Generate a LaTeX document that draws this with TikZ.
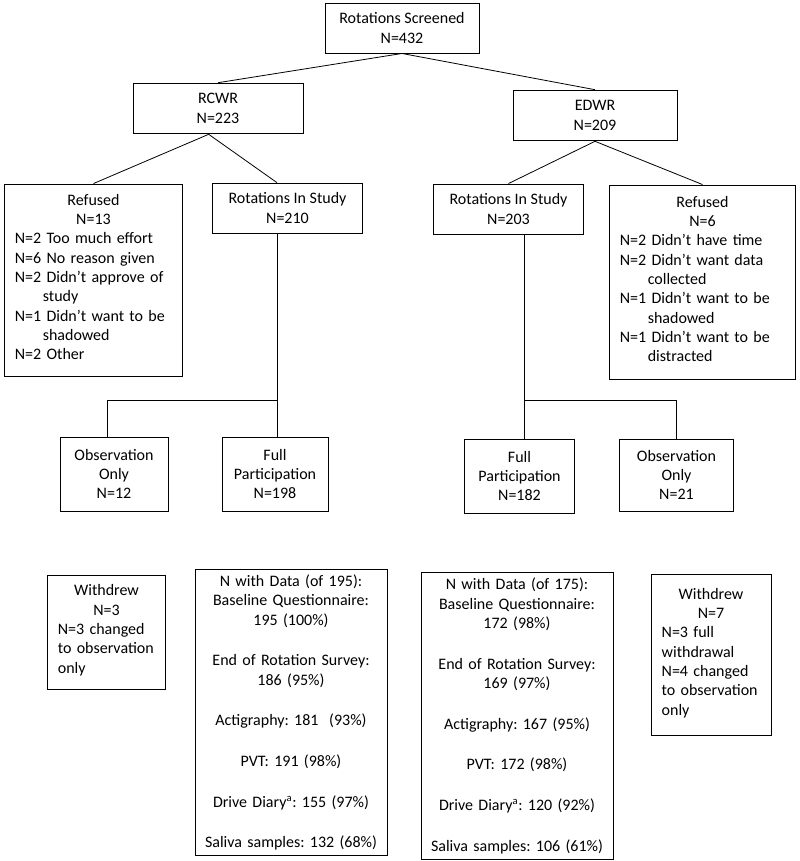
\documentclass[tikz,border=0pt]{standalone}
\usepackage{fontspec}
\setmainfont{Carlito}
\newcommand{\ind}{\hspace*{1.75em}}

\begin{document}
\begin{tikzpicture}[x=0.75pt, y=-0.75pt,
  every node/.style={font=\fontsize{12}{14.5}\selectfont\frenchspacing},
  box/.style={draw, line width=0.7pt, align=center, inner xsep=8pt, inner ysep=4pt},
  link/.style={line width=0.6pt}]
  \useasboundingbox (0,0) rectangle (800,861);

  % Screening box
  \node[box, minimum width=115.5pt, minimum height=37.5pt] (screen) at (402,28) {Rotations Screened\\N=432};

  % Site boxes
  \node[box, minimum width=127.5pt, minimum height=38pt] (rcwr) at (218,108.5) {RCWR\\N=223};
  \node[box, minimum width=123pt, minimum height=38pt] (edwr) at (595,115.5) {EDWR\\N=209};

  % RCWR branch
  \node[box, text width=118pt, minimum height=144pt] (refL) at (93.5,280)
    {Refused\\N=13\\\begin{tabular}[t]{@{}p{118pt}@{}}N=2 Too much effort\\N=6 No reason given\\N=2 Didn't approve of\\\ind study\\N=1 Didn't want to be\\\ind shadowed\\N=2 Other\end{tabular}};
  \node[box, minimum width=112pt, minimum height=37.5pt] (risL) at (287.5,208) {Rotations In Study\\N=210};
  \node[box, minimum width=81pt, minimum height=55.5pt] (obsL) at (114,474) {Observation\\Only\\N=12};
  \node[box, minimum width=79.5pt, minimum height=55.5pt] (fullL) at (275,474) {Full\\Participation\\N=198};

  % EDWR branch
  \node[box, minimum width=112pt, minimum height=37.5pt] (risR) at (508.5,209) {Rotations In Study\\N=203};
  \node[box, text width=124pt, minimum height=145.5pt] (refR) at (702.5,282)
    {Refused\\N=6\\\begin{tabular}[t]{@{}p{124pt}@{}}N=2 Didn't have time\\N=2 Didn't want data\\\ind collected\\N=1 Didn't want to be\\\ind shadowed\\N=1 Didn't want to be\\\ind distracted\end{tabular}};
  \node[box, minimum width=83pt, minimum height=55.5pt] (fullR) at (519.5,476) {Full\\Participation\\N=182};
  \node[box, minimum width=85pt, minimum height=54pt] (obsR) at (676.5,475) {Observation\\Only\\N=21};

  % Withdrawals and data
  \node[box, text width=73pt, minimum height=85.5pt] (wdL) at (106.5,632)
    {Withdrew\\N=3\\\begin{tabular}[t]{@{}p{73pt}@{}}N=3 changed\\to observation\\only\end{tabular}};
  \node[box, inner xsep=6pt, text width=132pt, minimum height=209pt] (dataL) at (291,712.5)
    {N with Data (of 195):\\Baseline Questionnaire:\\195 (100\%)\\[16pt]End of Rotation Survey:\\186 (95\%)\\[16pt]Actigraphy: 181~~(93\%)\\[16pt]PVT: 191 (98\%)\\[16pt]Drive Diary\textsuperscript{a}: 155 (97\%)\\[16pt]Saliva samples: 132 (68\%)};
  \node[box, inner xsep=6pt, text width=132pt, minimum height=211.5pt] (dataR) at (517,716)
    {N with Data (of 175):\\Baseline Questionnaire:\\172 (98\%)\\[16pt]End of Rotation Survey:\\169 (97\%)\\[16pt]Actigraphy: 167 (95\%)\\[16pt]PVT: 172 (98\%)\\[16pt]Drive Diary\textsuperscript{a}: 120 (92\%)\\[16pt]Saliva samples: 106 (61\%)};
  \node[box, text width=74pt, minimum height=120.75pt] (wdR) at (711,654.5)
    {Withdrew\\N=7\\\begin{tabular}[t]{@{}p{74pt}@{}}N=3 full\\withdrawal\\N=4 changed\\to observation\\only\end{tabular}};

  % Connectors
  \draw[link] (screen.south) -- (rcwr.north);
  \draw[link] (screen.south) -- (edwr.north);
  \draw[link] ([xshift=-7pt]rcwr.south) -- (refL.north);
  \draw[link] ([xshift=-7pt]rcwr.south) -- ([xshift=-8pt]risL.north);
  \draw[link] (edwr.south) -- (risR.north);
  \draw[link] (edwr.south) -- (refR.north);

  % Split into observation only / full participation
  \coordinate (splitL) at (277,400);
  \draw[link] (risL.south -| splitL) -- (splitL |- fullL.north);
  \draw[link] (splitL) -| ([xshift=-5pt]obsL.north);
  \coordinate (splitR) at (524,400);
  \draw[link] (risR.south -| splitR) -- (splitR |- fullR.north);
  \draw[link] (splitR) -| (obsR.north);
\end{tikzpicture}
\end{document}
